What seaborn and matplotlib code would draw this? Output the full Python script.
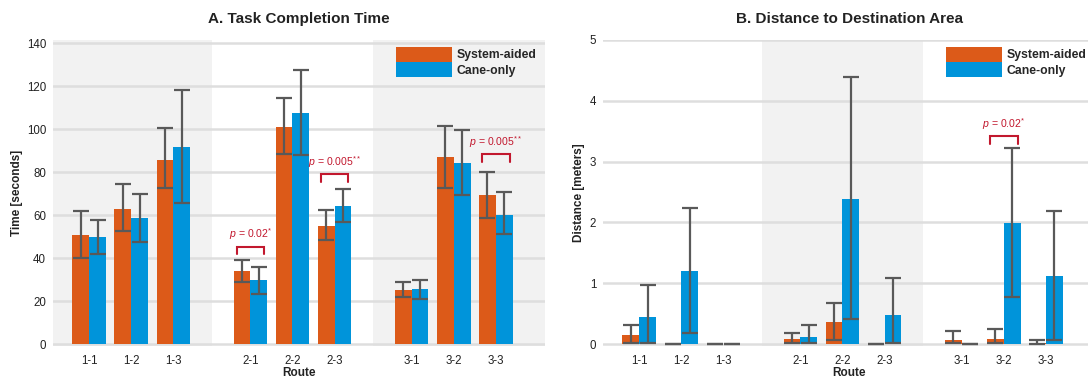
import numpy as np
import pandas as pd
import matplotlib
matplotlib.use("Agg")
import matplotlib.pyplot as plt
from matplotlib.patches import Patch
import seaborn as sns

# ---------------- data ----------------
routes = ['1-1', '1-2', '1-3', '2-1', '2-2', '2-3', '3-1', '3-2', '3-3']
conditions = ['System-aided', 'Cane-only']

sys_time = [50.5, 62.7, 85.8, 33.8, 100.8, 55.1, 25.1, 87.2, 69.5]
sys_time_lo = [40.1, 52.5, 72.6, 29.0, 88.4, 48.3, 21.7, 72.8, 58.7]
sys_time_hi = [61.8, 74.3, 100.7, 39.0, 114.3, 62.3, 28.7, 101.3, 79.9]
cane_time = [49.9, 58.4, 91.7, 29.6, 107.3, 64.1, 25.6, 84.4, 60.2]
cane_time_lo = [42.1, 47.5, 65.7, 23.5, 87.8, 56.7, 21.1, 69.4, 51.0]
cane_time_hi = [57.9, 69.7, 118.3, 35.9, 127.5, 72.3, 30.0, 99.4, 70.6]

sys_dist = [0.148, 0.0, 0.0, 0.08, 0.367, 0.0, 0.066, 0.08, 0.02]
sys_dist_lo = [0.01, 0.0, 0.0, 0.01, 0.066, 0.0, 0.01, 0.01, 0.0]
sys_dist_hi = [0.318, 0.0, 0.0, 0.175, 0.68, 0.0, 0.21, 0.247, 0.066]
cane_dist = [0.45, 1.206, 0.0, 0.11, 2.385, 0.477, 0.0, 1.985, 1.118]
cane_dist_lo = [0.01, 0.186, 0.0, 0.01, 0.405, 0.01, 0.0, 0.78, 0.066]
cane_dist_hi = [0.97, 2.24, 0.0, 0.31, 4.39, 1.09, 0.0, 3.22, 2.19]

time_annot_routes = ['2-1', '2-3', '3-3']
time_annot_y = [45.2, 79.0, 88.3]
time_annot_labels = ['0.02*', '0.005**', '0.005**']
dist_annot_routes = ['3-2']
dist_annot_y = [3.42]
dist_annot_labels = ['0.02*']

# ---------------- style ----------------
sns.set_theme(style="white")
plt.rcParams['font.family'] = ['Liberation Sans', 'DejaVu Sans']
plt.rcParams['mathtext.fontset'] = 'custom'
plt.rcParams['mathtext.it'] = 'Liberation Sans:italic'
plt.rcParams['mathtext.rm'] = 'Liberation Sans'

ORANGE = '#DC5A19'
BLUE = '#0094DA'
SHADE = '#F2F2F2'
GRID = '#DEDEDE'
ERR = '#595959'
RED = '#C2182E'
TXT = '#222222'

GROUP_GAP = 3.83
positions = [(int(r[0]) - 1) * GROUP_GAP + (int(r[2]) - 1) for r in routes]
pos_of = dict(zip(routes, positions))
XMIN, XMAX = -0.86, positions[-1] + 1.17

W, H = 1088, 379
fig = plt.figure(figsize=(W / 100, H / 100), dpi=100)


def make_ax(left_px, top_y_px, bottom_y_px):
    return fig.add_axes([left_px / W, 1 - bottom_y_px / H, 492 / W,
                         (bottom_y_px - top_y_px) / H])


def panel(ax, sys_v, sys_lo, sys_hi, cane_v, cane_lo, cane_hi, ylim, yticks,
          shaded, title, ylabel, annots):
    df = pd.DataFrame({
        'pos': positions * 2,
        'value': list(sys_v) + list(cane_v),
        'condition': [conditions[0]] * len(routes) + [conditions[1]] * len(routes),
    })
    for a, b in shaded:
        ax.axvspan(a, b, color=SHADE, zorder=0, lw=0)
    sns.barplot(data=df, x='pos', y='value', hue='condition', hue_order=conditions,
                native_scale=True, palette=[ORANGE, BLUE], errorbar=None,
                width=0.8, saturation=1, ax=ax, zorder=2, linewidth=0,
                edgecolor='none')
    for vals, lo, hi, off in [(sys_v, sys_lo, sys_hi, -0.2), (cane_v, cane_lo, cane_hi, 0.2)]:
        v = np.array(vals); l = np.array(lo); h = np.array(hi)
        ax.errorbar(np.array(positions) + off, v, yerr=[v - l, h - v], fmt='none',
                    ecolor=ERR, elinewidth=1.6, capsize=5.8, capthick=1.6, zorder=3)
    for r, y, lab in annots:
        x = pos_of[r]
        dy = (ylim[1] - ylim[0]) * 0.0245
        ax.plot([x - 0.33, x - 0.33, x + 0.33, x + 0.33], [y - dy, y, y, y - dy],
                color=RED, lw=1.5, zorder=4, solid_joinstyle='miter')
        ax.text(x, y + dy * 0.6, r'$p$ = ' + lab.rstrip('*') + r'$^{' + '*' * lab.count('*') + '}$',
                color=RED, fontsize=7.6, ha='center', va='bottom', zorder=4)
    ax.set_xlim(XMIN, XMAX)
    ax.set_ylim(*ylim)
    ax.set_yticks(yticks)
    ax.set_xticks(positions)
    ax.set_xticklabels(routes)
    ax.yaxis.grid(True, color=GRID, lw=1.8)
    ax.xaxis.grid(False)
    ax.set_axisbelow(True)
    for s in ax.spines.values():
        s.set_visible(False)
    ax.tick_params(axis='both', length=0, labelsize=8.3, labelcolor=TXT)
    ax.tick_params(axis='x', pad=6)
    ax.tick_params(axis='y', pad=5)
    ax.set_xlabel('Route', fontsize=8.5, fontweight='bold', color=TXT, labelpad=0)
    ax.set_ylabel(ylabel, fontsize=8.5, fontweight='bold', color=TXT, labelpad=3)
    ax.set_title(title, fontsize=11, fontweight='bold', color=TXT, pad=12)
    leg = ax.get_legend()
    if leg is not None:
        leg.remove()
    handles = [Patch(facecolor=ORANGE, edgecolor='none'), Patch(facecolor=BLUE, edgecolor='none')]
    ax.legend(handles, conditions, loc='upper left', bbox_to_anchor=(0.697, 0.978),
              frameon=False, prop={'weight': 'bold', 'size': 8.8},
              handlelength=4.6, handleheight=1.55, handletextpad=0.35,
              labelspacing=0.0, borderpad=0, borderaxespad=0)


ax1 = make_ax(53, 39.8, 346.2)
panel(ax1, sys_time, sys_time_lo, sys_time_hi, cane_time, cane_time_lo, cane_time_hi,
      (-1, 141.5), [0, 20, 40, 60, 80, 100, 120, 140],
      [(XMIN, (positions[2] + positions[3]) / 2), ((positions[5] + positions[6]) / 2, XMAX)],
      'A. Task Completion Time', 'Time [seconds]',
      list(zip(time_annot_routes, time_annot_y, time_annot_labels)))

ax2 = make_ax(603, 40, 346.2)
panel(ax2, sys_dist, sys_dist_lo, sys_dist_hi, cane_dist, cane_dist_lo, cane_dist_hi,
      (-0.036, 5.0), [0, 1, 2, 3, 4, 5],
      [((positions[2] + positions[3]) / 2, (positions[5] + positions[6]) / 2)],
      'B. Distance to Destination Area', 'Distance [meters]',
      list(zip(dist_annot_routes, dist_annot_y, dist_annot_labels)))

fig.savefig('out.png', dpi=100)
